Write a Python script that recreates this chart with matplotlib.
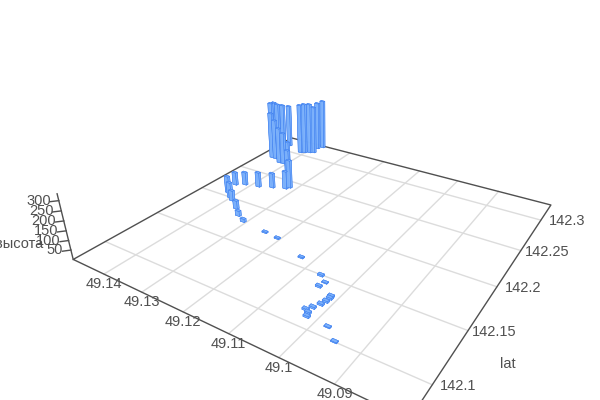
# coding:utf-8
import numpy as np
import matplotlib
matplotlib.use('Agg')
import matplotlib.pyplot as plt
from mpl_toolkits.mplot3d import proj3d

plt.rcParams['font.family'] = ['Liberation Sans', 'DejaVu Sans']

lat = [142.1003, 142.1089, 142.1098, 142.1132, 142.1149, 142.1188, 142.1239, 142.128, 142.1319,
       142.134, 142.1385, 142.1443, 142.1493, 142.1596, 142.1704, 142.1722, 142.1758, 142.1808,
       142.1885, 142.197, 142.2, 142.2059, 142.2202, 142.2248, 142.2279, 142.2329, 142.2373,
       142.2406, 142.2664, 142.2837, 142.2764, 142.2761, 142.2813, 142.2815, 142.2944, 142.3011,
       142.3013, 142.3097, 142.3129, 142.305, 142.3071, 142.3096, 142.3117, 142.3216, 142.3261]
lon = [49.0948, 49.0976, 49.1019, 49.1023, 49.1031, 49.1024, 49.1017, 49.1014, 49.1013,
       49.1014, 49.1048, 49.1045, 49.1063, 49.1127, 49.1207, 49.1242, 49.1308, 49.1333,
       49.1357, 49.1389, 49.1402, 49.1422, 49.1434, 49.1415, 49.1382, 49.1352, 49.1323,
       49.1318, 49.1376, 49.1411, 49.1409, 49.1421, 49.1444, 49.1455, 49.1482, 49.1486,
       49.1476, 49.1477, 49.1463, 49.1412, 49.1403, 49.1392, 49.1383, 49.1389, 49.1381]
height = [4, 4, 8, 8, 8, 8, 8, 8, 8,
          8, 8, 4, 8, 6, 6, 6, 17, 29,
          47, 59, 89, 96, 74, 74, 85, 85, 103,
          163, 126, 117, 191, 216, 243, 281, 305, 295,
          288, 265, 259, 304, 310, 310, 291, 294, 302]

lat_ticks = [142.1, 142.15, 142.2, 142.25, 142.3]
lat_labels = ['142.1', '142.15', '142.2', '142.25', '142.3']
lon_ticks = [49.09, 49.1, 49.11, 49.12, 49.13, 49.14]
lon_labels = ['49.09', '49.1', '49.11', '49.12', '49.13', '49.14']
z_ticks = [50, 100, 150, 200, 250, 300]

xmin, xmax = 142.0729, 142.3283
ymin, ymax = 49.0781, 49.1488
zmax = 333
bar_dx = 0.0022
bar_dy = 0.0011
text_color = '#505050'

fig = plt.figure(figsize=(6, 4), dpi=100)
ax = fig.add_subplot(projection='3d', computed_zorder=False)
ax.set_position([0.1307, -0.129, 0.8167, 1.225])
ax.set_proj_type('persp', focal_length=0.2278)
ax.view_init(elev=28.6, azim=-147.3)
ax.set_box_aspect((1, 1, 0.2))
ax.set_xlim(xmin, xmax, view_margin=0)
ax.set_ylim(ymin, ymax, view_margin=0)
ax.set_zlim(0, zmax, view_margin=0)
ax.set_axis_off()


def label(s, x, y, z, dx, dy, ha='center'):
    px, py, _ = proj3d.proj_transform(x, y, z, ax.get_proj())
    ax.annotate(s, (px, py), xytext=(dx, dy), textcoords='offset pixels', ha=ha, va='center',
                fontsize=10.5, color=text_color, annotation_clip=False)


# grid on the floor
for t in lat_ticks:
    ax.plot([t, t], [ymin, ymax], [0, 0], color='#dcdcdc', lw=1, zorder=1)
for t in lon_ticks:
    ax.plot([xmin, xmax], [t, t], [0, 0], color='#dcdcdc', lw=1, zorder=1)

# floor border and height axis, these stick out of the square axes box on the left
ax.plot([xmin, xmax, xmax, xmin, xmin], [ymin, ymin, ymax, ymax, ymin], [0, 0, 0, 0, 0],
        color='#505050', lw=1, zorder=2, clip_on=False)
ax.plot([xmin, xmin], [ymax, ymax], [0, zmax], color='#505050', lw=1, zorder=2, clip_on=False)
for t in z_ticks:
    ax.plot([xmin, xmin - 0.004], [ymax, ymax + 0.001], [t, t], color='#505050', lw=1, zorder=2,
            clip_on=False)

x = np.array(lat)
y = np.array(lon)
ax.bar3d(x - bar_dx / 2, y - bar_dy / 2, np.zeros(len(x)), bar_dx, bar_dy, height,
         color='#7db2fb', edgecolor='#3f80f0', linewidth=0.35, alpha=0.9, shade=False, zorder=3)

for t, s in zip(lat_ticks, lat_labels):
    label(s, t, ymin, 0, 26, -1)
for t, s in zip(lon_ticks, lon_labels):
    label(s, xmin, t, 0, 0, -10)
for t in z_ticks:
    label(str(t), xmin, ymax, t, -8, 0, ha='right')
label('lat', 142.15, ymin, 0, 40, -33)
label('высота', xmin, ymax, 100, -49, -3)

plt.savefig('out.png', dpi=100)
